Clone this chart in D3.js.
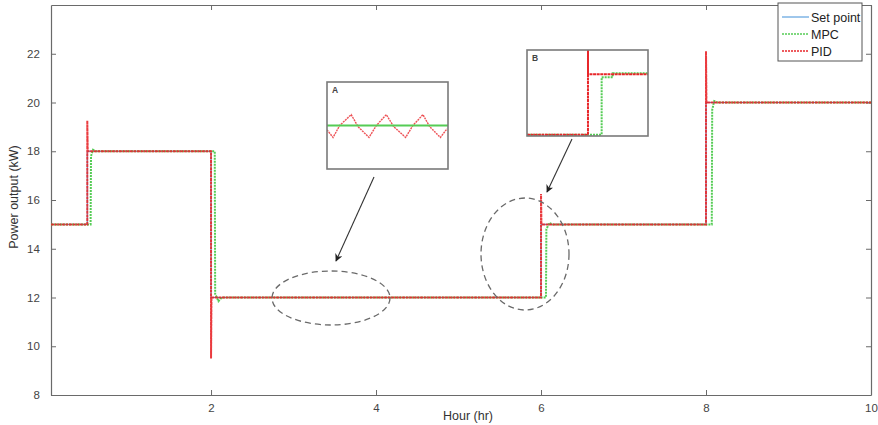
<!DOCTYPE html>
<html>
<head>
<meta charset="utf-8">
<script src="https://cdn.jsdelivr.net/npm/d3@7"></script>
<style>
  html, body { margin: 0; padding: 0; background: #fff; }
  svg { display: block; font-family: "Liberation Sans", Arial, sans-serif; }
</style>
</head>
<body>
<svg id="chart" width="878" height="425"></svg>
<script>
// ---------------- data ----------------
const xTicks = [2, 4, 6, 8, 10];
const yTicks = [8, 10, 12, 14, 16, 18, 20, 22];

const setT = [0.06, 0.5, 0.5, 2.0, 2.0, 6.0, 6.0, 8.0, 8.0, 10];
const setV = [15, 15, 18, 18, 12, 12, 15, 15, 20, 20];

const mpcT = [0.06, 0.54, 0.545, 0.57, 0.60, 2.045, 2.05, 2.09, 2.13, 6.06, 6.065, 6.10, 6.14, 8.07, 8.075, 8.10, 8.14, 10];
const mpcV = [15, 15, 17.8, 18.06, 18, 18, 12.15, 11.85, 12, 12, 14.8, 15.06, 15, 15, 19.7, 20.06, 20, 20];

const pidT = [0.06, 0.5, 0.5, 0.505, 0.53, 2.0, 2.0, 2.005, 2.03, 6.0, 6.0, 6.005, 6.03, 8.0, 8.0, 8.005, 8.03, 10];
const pidV = [15, 15, 19.25, 18, 18, 18, 9.5, 12, 12, 12, 16.25, 15, 15, 15, 22.1, 20, 20, 20];

// inset A (zoom on steady state near 12 kW)
const insetAT = [0, 0.05, 0.105, 0.20, 0.256, 0.347, 0.408, 0.49, 0.551, 0.65, 0.71, 0.793, 0.848, 0.937, 0.992];
const insetAPid = [11.996, 11.989, 12.0, 12.010, 11.999, 11.989, 12.0, 12.010, 11.999, 11.989, 12.0, 12.010, 11.999, 11.989, 11.997];
const insetAMpcT = [0, 1];
const insetAMpcV = [12.0, 12.0];

// inset B (zoom on step at 6 h)
const insetBPidT = [0, 0.504, 0.504, 0.504, 1];
const insetBPidV = [12, 12, 16.6, 15, 15];
const insetBMpcT = [0, 0.617, 0.617, 0.708, 0.708, 1];
const insetBMpcV = [12, 12, 14.85, 14.85, 15.05, 15.05];

const legendLabels = ["Set point", "MPC", "PID"];

// ---------------- layout ----------------
const svg = d3.select("#chart");
const L = 51, R = 871, T = 5, B = 395;
const x = d3.scaleLinear().domain([0.06, 10]).range([L, R]);
const y = d3.scaleLinear().domain([8, 24]).range([B, T]);

const colBlue = "#3f8fd8", colGreen = "#55cc55", colRed = "#e8262a";
const axisCol = "#6a6a6a", textCol = "#444";

// axes (MATLAB style, ticks inward, box on)
const ax = svg.append("g");
const xAxisB = d3.axisBottom(x).tickValues(xTicks).tickSizeInner(-5).tickSizeOuter(0).tickPadding(9);
const yAxisL = d3.axisLeft(y).tickValues(yTicks).tickSizeInner(-5).tickSizeOuter(0).tickPadding(10);
const xAxisT = d3.axisTop(x).tickValues(xTicks).tickSizeInner(-5).tickSizeOuter(0).tickFormat("");
const yAxisR = d3.axisRight(y).tickValues(yTicks).tickSizeInner(-5).tickSizeOuter(0).tickFormat("");

const gxb = ax.append("g").attr("transform", `translate(0,${B})`).call(xAxisB);
const gyl = ax.append("g").attr("transform", `translate(${L},0)`).call(yAxisL);
const gxt = ax.append("g").attr("transform", `translate(0,${T})`).call(xAxisT);
const gyr = ax.append("g").attr("transform", `translate(${R},0)`).call(yAxisR);
[gxb, gyl, gxt, gyr].forEach(g => {
  g.selectAll("path.domain").attr("stroke", axisCol).attr("stroke-width", 1.2);
  g.selectAll(".tick line").attr("stroke", axisCol).attr("stroke-width", 1);
  g.selectAll(".tick text").attr("fill", textCol).attr("font-size", 11.5)
    .attr("font-family", "Liberation Sans, Arial, sans-serif");
});
gyl.selectAll(".tick text").attr("dx", "-0.1em");

svg.append("text").attr("x", 468).attr("y", 420).attr("text-anchor", "middle")
  .attr("font-size", 12.5).attr("fill", "#333").text("Hour (hr)");
svg.append("text").attr("transform", "translate(18,197) rotate(-90)").attr("text-anchor", "middle")
  .attr("font-size", 12.5).attr("fill", "#333").text("Power output (kW)");

// clip
svg.append("clipPath").attr("id", "plotclip").append("rect")
  .attr("x", L).attr("y", T).attr("width", R - L).attr("height", B - T);

const line = (xs, ys) => d3.line().x((d, i) => xs(d[0])).y(d => ys(d[1]));
const zip = (a, b) => a.map((v, i) => [v, b[i]]);

const plot = svg.append("g").attr("clip-path", "url(#plotclip)");
plot.append("path").datum(zip(setT, setV)).attr("d", line(x, y))
  .attr("fill", "none").attr("stroke", colBlue).attr("stroke-width", 1);
plot.append("path").datum(zip(mpcT, mpcV)).attr("d", line(x, y))
  .attr("fill", "none").attr("stroke", colGreen).attr("stroke-width", 2).attr("stroke-dasharray", "2,1");
plot.append("path").datum(zip(pidT, pidV)).attr("d", line(x, y))
  .attr("fill", "none").attr("stroke", colRed).attr("stroke-width", 2).attr("stroke-dasharray", "3,0.6")
  .attr("stroke-opacity", 0.9);

// ---------------- annotations ----------------
const defs = svg.append("defs");
defs.append("marker").attr("id", "arrow").attr("viewBox", "0 0 10 10")
  .attr("refX", 9).attr("refY", 5).attr("markerWidth", 7).attr("markerHeight", 7)
  .attr("orient", "auto-start-reverse")
  .append("path").attr("d", "M0,0 L10,5 L0,10 L3,5 z").attr("fill", "#222");

svg.append("ellipse").attr("cx", 331).attr("cy", 298).attr("rx", 59).attr("ry", 27)
  .attr("fill", "none").attr("stroke", "#6a6a6a").attr("stroke-width", 1.3).attr("stroke-dasharray", "6,4");
svg.append("ellipse").attr("cx", 525).attr("cy", 254).attr("rx", 44).attr("ry", 56)
  .attr("fill", "none").attr("stroke", "#6a6a6a").attr("stroke-width", 1.3).attr("stroke-dasharray", "6,4");

svg.append("line").attr("x1", 374).attr("y1", 177).attr("x2", 336).attr("y2", 261)
  .attr("stroke", "#333").attr("stroke-width", 1.1).attr("marker-end", "url(#arrow)");
svg.append("line").attr("x1", 572).attr("y1", 139).attr("x2", 547).attr("y2", 192)
  .attr("stroke", "#333").attr("stroke-width", 1.1).attr("marker-end", "url(#arrow)");

// ---------------- insets ----------------
function inset(x0, y0, w, h, xd, yd, label, series) {
  const g = svg.append("g");
  const id = "clip" + label;
  svg.append("clipPath").attr("id", id).append("rect").attr("x", x0).attr("y", y0).attr("width", w).attr("height", h);
  g.append("rect").attr("x", x0).attr("y", y0).attr("width", w).attr("height", h)
    .attr("fill", "#fff").attr("stroke", "none");
  const sx = d3.scaleLinear().domain(xd).range([x0, x0 + w]);
  const sy = d3.scaleLinear().domain(yd).range([y0 + h, y0]);
  const gi = g.append("g").attr("clip-path", `url(#${id})`);
  series.forEach(s => {
    gi.append("path").datum(zip(s.t, s.v)).attr("d", line(sx, sy))
      .attr("fill", "none").attr("stroke", s.color).attr("stroke-width", s.w)
      .attr("stroke-dasharray", s.dash || null).attr("stroke-opacity", s.op || 1);
  });
  g.append("rect").attr("x", x0).attr("y", y0).attr("width", w).attr("height", h)
    .attr("fill", "none").attr("stroke", "#7a7a7a").attr("stroke-width", 1.6);
  g.append("text").attr("x", x0 + 5).attr("y", y0 + 11).attr("font-size", 8.5)
    .attr("font-weight", "bold").attr("fill", "#444").text(label);
}

inset(327, 82, 121, 87, [0, 1], [11.96, 12.04], "A", [
  { t: insetAT, v: insetAPid, color: colRed, w: 1.4, dash: "2,0.8", op: 0.8 },
  { t: insetAMpcT, v: insetAMpcV, color: colGreen, w: 2 }
]);
inset(527, 50, 121, 86, [0, 1], [11.935, 16.21], "B", [
  { t: insetBMpcT, v: insetBMpcV, color: colGreen, w: 2, dash: "2,1" },
  { t: insetBPidT, v: insetBPidV, color: colRed, w: 2, dash: "3,0.6" }
]);

// ---------------- legend ----------------
const lg = svg.append("g");
lg.append("rect").attr("x", 778).attr("y", 3).attr("width", 84).attr("height", 58)
  .attr("fill", "#fff").attr("stroke", "#555").attr("stroke-width", 1);
const legCols = [colBlue, colGreen, colRed];
const legDash = [null, "2,1", "2,1"];
const legY = [17, 34, 51];
legendLabels.forEach((lab, i) => {
  lg.append("line").attr("x1", 782).attr("x2", 809).attr("y1", legY[i]).attr("y2", legY[i])
    .attr("stroke", legCols[i]).attr("stroke-width", i === 0 ? 1 : 1.6)
    .attr("stroke-dasharray", legDash[i]);
  lg.append("text").attr("x", 811).attr("y", legY[i] + 4.5).attr("font-size", 12.5)
    .attr("fill", "#222").text(lab);
});
</script>
</body>
</html>
